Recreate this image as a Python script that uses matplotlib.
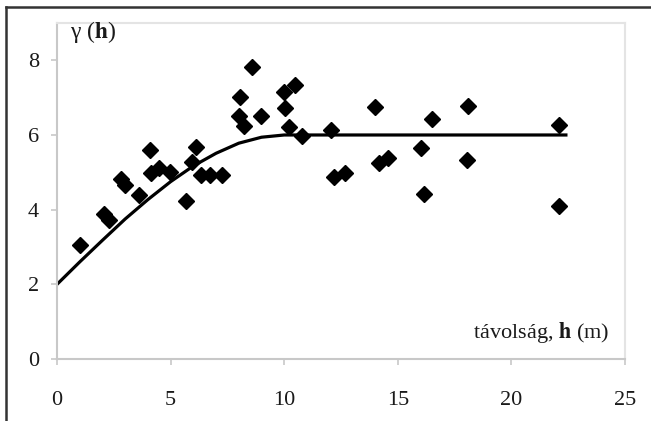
import matplotlib
matplotlib.use("Agg")
import matplotlib.pyplot as plt
from matplotlib.lines import Line2D

plt.rcParams['font.family'] = ['Liberation Serif', 'DejaVu Serif']
plt.rcParams['mathtext.fontset'] = 'stix'

# tapasztalati variogram pontok
h_tap = [1.02, 2.07, 2.28, 2.83, 2.98, 3.62, 4.08, 4.13, 4.48, 4.99,
         5.68, 5.96, 6.10, 6.32, 6.73, 7.24, 8.06, 8.0, 8.25, 8.57,
         8.97, 10.01, 10.05, 10.49, 10.2, 10.8, 12.06, 12.21, 12.66, 14.0,
         14.16, 14.58, 16.01, 16.14, 16.5, 18.11, 18.06, 22.08, 22.11]
gamma_tap = [3.06, 3.89, 3.73, 4.83, 4.67, 4.40, 5.59, 4.98, 5.12, 5.01,
             4.24, 5.27, 5.67, 4.94, 4.94, 4.94, 7.02, 6.50, 6.25, 7.82,
             6.52, 7.15, 6.73, 7.33, 6.21, 5.97, 6.13, 4.87, 4.97, 6.75,
             5.25, 5.39, 5.66, 4.42, 6.43, 6.77, 5.34, 6.26, 4.09]

# illesztett modell (leolvasva)
h_mod = [0, 1, 2, 3, 4, 5, 6, 7, 8, 9, 10, 22.4]
gamma_mod = [2.0, 2.6, 3.18, 3.75, 4.27, 4.75, 5.17, 5.51, 5.78, 5.94, 6.0, 6.0]

xticks = [0, 5, 10, 15, 20, 25]
yticks = [0, 2, 4, 6, 8]

fig = plt.figure(figsize=(6.51, 4.21), dpi=100)
ax = fig.add_axes([0.0876, 0.1473, 0.8724, 0.7981])

ax.plot(h_mod, gamma_mod, color='black', lw=2.3, solid_joinstyle='round', zorder=2)
ax.plot(h_tap, gamma_tap, linestyle='none', marker='D', markersize=8,
        color='black', zorder=3)

ax.set_xlim(0, 25)
ax.set_ylim(0, 9)
ax.set_xticks(xticks)
ax.set_yticks(yticks)

grey = '#c8c8c8'
for s in ax.spines.values():
    s.set_color(grey)
    s.set_linewidth(1.5)
ax.spines['top'].set_color('#e4e4e4')
ax.spines['right'].set_color('#e4e4e4')
ax.tick_params(direction='out', length=4, width=1.2, color=grey,
               labelsize=16, labelcolor='#1a1a1a')
ax.tick_params(axis='y', pad=9)
ax.tick_params(axis='x', pad=19)

ax.text(0.57, 8.75, r'γ ($\mathbf{h}$)', fontsize=17, ha='left', va='center', color='#1a1a1a')
ax.text(24.3, 0.72, r'távolság, $\mathbf{h}$ (m)', fontsize=16, ha='right', va='center',
        color='#1a1a1a')

# külső keret
fig.add_artist(Line2D([6/651, 6/651], [0, 1 - 7/421], transform=fig.transFigure,
                      color='#333333', lw=1.8))
fig.add_artist(Line2D([6/651, 1], [1 - 7/421, 1 - 7/421], transform=fig.transFigure,
                      color='#333333', lw=1.8))

fig.savefig('out.png', dpi=100)
